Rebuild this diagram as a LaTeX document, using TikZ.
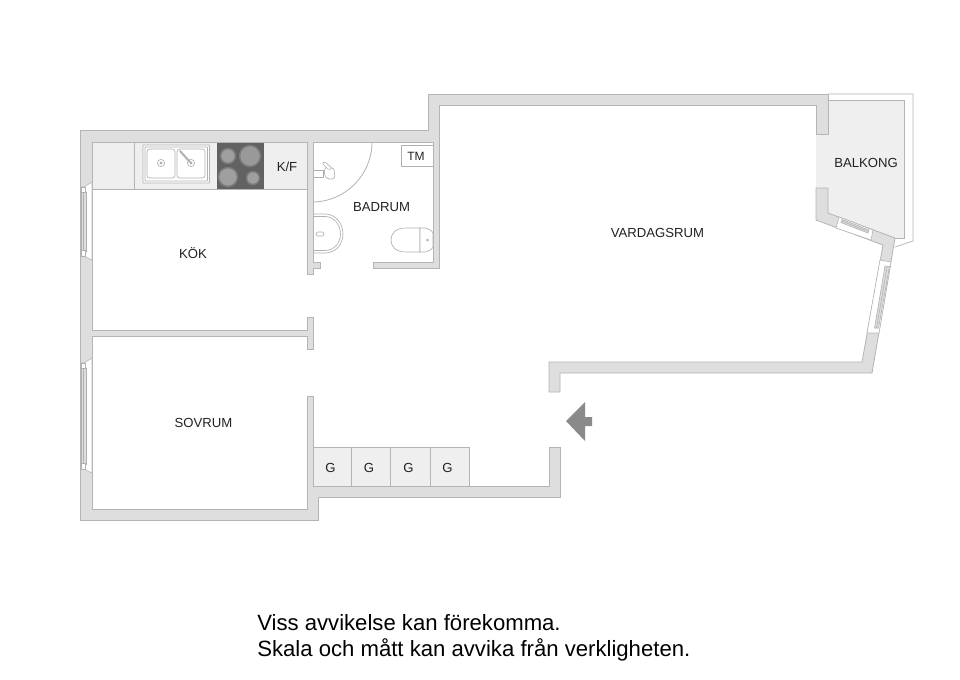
\documentclass[tikz,border=0pt]{standalone}
\usepackage{fontspec}
\setmainfont{Liberation Sans}
\definecolor{wallfill}{HTML}{DEDEDE}
\definecolor{wallline}{HTML}{B4B4B4}
\definecolor{floorgray}{HTML}{EFEFEF}
\definecolor{fixline}{HTML}{B0B0B0}
\definecolor{hob}{HTML}{626262}
\definecolor{burnerring}{HTML}{7A7A7A}
\definecolor{arrowgray}{HTML}{8A8A8A}
\definecolor{inktext}{HTML}{222222}
\tikzset{
  wall/.style={fill=wallfill,draw=wallline,line width=0.6pt,line join=miter},
  floorarea/.style={fill=floorgray,draw=wallline,line width=0.6pt},
  fixture/.style={draw=fixline,line width=0.5pt,fill=white},
  windowgap/.style={fill=white,draw=wallline,line width=0.45pt},
  glass/.style={draw=fixline,line width=0.45pt},
  burner/.style={fill=#1,draw=burnerring,line width=1.1pt},
  roomlabel/.style={font=\fontsize{9.85pt}{11pt}\selectfont,text=inktext,inner sep=0pt},
  note/.style={font=\fontsize{16.6pt}{20pt}\selectfont,text=black,inner sep=0pt,anchor=base west}
}
\begin{document}
\begin{tikzpicture}[x=0.75pt,y=-0.75pt]
\useasboundingbox[fill=white] (0,0) rectangle (960,679);
% balcony
\draw[draw=wallline,line width=0.5pt] (828,94) -- (913,94) -- (913,241) -- (895,247);
\fill[floorgray] (816,134) -- (828,134) -- (828,100) -- (904,100) -- (904,238) -- (895,238) -- (828,213) -- (828,188) -- (816,188) -- cycle;
\draw[wallline,line width=0.6pt] (828,100) -- (904,100) -- (904,238) -- (895,238);
% counter
\draw[floorarea] (92,142) rectangle (307,189);
\draw[wallline,line width=0.6pt] (134.5,142) -- (134.5,189);
\fill[hob] (217,142) rectangle (264,189);
\foreach \cx/\cy/\r/\c in {228/156/7.5/gray!75,250/156/10.5/gray!80,228/177/9.5/gray!75,253/178/6.5/gray!75}
  \draw[burner=\c] (\cx,\cy) circle (\r);
% sink
\draw[fixture,rounded corners=0.5pt] (143,145) rectangle (209.5,183);
\draw[fixture,rounded corners=0.5pt] (145,147) rectangle (207.5,181);
\draw[fixture,rounded corners=2pt] (147,149) rectangle (175,178);
\draw[fixture,rounded corners=2pt] (177,149) rectangle (205,178);
\foreach \cx in {161,191} {
  \draw[fixture] (\cx,163) circle (3.6);
  \draw[fixture,fill=fixline] (\cx,163) circle (1.2);
}
\draw[fixline,line width=1.5pt,line cap=round] (180,151) -- (190,162);
% G boxes
\foreach \xa/\xb in {313/351,351/390,390/430,430/469}
  \draw[floorarea] (\xa,447) rectangle (\xb,486);
% TM box
\draw[fixture] (401,145) rectangle (433,166);
% door swing
\draw[wallline,line width=0.6pt] (372,142) arc[start angle=0,end angle=90,radius=60];
% bidet / shower fitting
\draw[fixture] (313,170) rectangle (323,177);
\draw[fixture,rounded corners=2pt] (325,167) -- (334,168) -- (335,179) -- (327,179) -- (324,174) -- cycle;
\draw[fixture,rounded corners=1pt] (322,163) -- (325,162) -- (332,168) -- (329,170) -- cycle;
% wash basin
\draw[fixture] (313,214) -- (325,214) .. controls (336,214) and (343,224) .. (343,234) .. controls (343,244) and (336,253) .. (325,253) -- (313,253);
\draw[fixture] (313,216.5) -- (325,216.5) .. controls (334,216.5) and (340.5,225) .. (340.5,234) .. controls (340.5,243) and (334,250.5) .. (325,250.5) -- (313,250.5);
\draw[fixture,rounded corners=1.5pt] (316,232) rectangle (324,236);
% toilet
\draw[fixture] (420,228) -- (406,228) .. controls (396,228) and (391,233) .. (391,240) .. controls (391,247) and (396,252) .. (406,252) -- (420,252) -- cycle;
\draw[fixture] (420,228) -- (425,228) .. controls (430,229) and (433,232) .. (433,233) -- (433,247) .. controls (433,248) and (430,251) .. (425,252) -- (420,252) -- cycle;
\draw[fixture,fill=fixline] (427.5,240) circle (1);
% walls
\draw[wall] (80,130) -- (428,130) -- (428,94) -- (828,94) -- (828,134) -- (816,134) -- (816,105) -- (439,105) -- (439,268) -- (373,268) -- (373,262) -- (433,262) -- (433,142) -- (313,142) -- (313,262) -- (320,262) -- (320,268) -- (313,268) -- (313,274) -- (307,274) -- (307,142) -- (92,142) -- (92,330) -- (307,330) -- (307,317) -- (313,317) -- (313,349) -- (307,349) -- (307,336) -- (92,336) -- (92,509) -- (307,509) -- (307,396) -- (313,396) -- (313,486) -- (549,486) -- (549,447) -- (560,447) -- (560,497) -- (318,497) -- (318,520) -- (80,520) -- cycle;
\draw[wall] (816,188) -- (828,188) -- (828,213) -- (895,238) -- (872,373) -- (560,373) -- (560,392) -- (549,392) -- (549,362) -- (862,362) -- (883,245) -- (816,220) -- cycle;
% left windows
\foreach \ya/\yb in {182/257,358/470} {
  \draw[windowgap] (80.5,\ya+5) -- (84,\ya+5) -- (92,\ya) -- (92,\yb+3) -- (84,\yb-1) -- (80.5,\yb-1) -- cycle;
  \draw[glass,fill=wallfill] (81.5,\ya+10) rectangle (86,\yb-6);
  \draw[glass] (83.7,\ya+10) -- (83.7,\yb-6);
  \draw[glass,fill=white] (81.5,\ya+5) rectangle (85.5,\ya+10);
  \draw[glass,fill=white] (81.5,\yb-7) rectangle (85.5,\yb-1);
}
% balcony door window
\draw[windowgap] (839,217) -- (873,230) -- (871,240) -- (836,228) -- cycle;
\draw[glass,fill=wallfill] (842,219.5) -- (869,230) -- (868,233) -- (841,222.5) -- cycle;
\draw[glass] (841.5,221) -- (868.5,231.5);
% right window
\draw[windowgap] (880,260) -- (891,262) -- (879,333) -- (867,333) -- cycle;
\draw[glass,fill=wallfill] (885,266) -- (889.5,266.5) -- (878.5,328) -- (874.5,328) -- cycle;
\draw[glass] (887.2,266.2) -- (876.5,328);
% entrance arrow
\fill[arrowgray] (566,421) -- (585,402) -- (585,417) -- (592,417) -- (592,426) -- (585,426) -- (585,441) -- cycle;
% labels
\node[roomlabel] (kf) at (287,167) {K/F};
\node[roomlabel] (tm) at (416,156.5) {\fontsize{9pt}{11pt}\selectfont TM};
\node[roomlabel] (badrum) at (381.5,207) {BADRUM};
\node[roomlabel] (balkong) at (866,163) {BALKONG};
\node[roomlabel] (kok) at (193,253) {KÖK};
\node[roomlabel] (sovrum) at (203.5,423) {SOVRUM};
\node[roomlabel] (vardagsrum) at (657.5,233) {VARDAGSRUM};
\node[roomlabel] (g1) at (330.5,468) {G};
\node[roomlabel] (g2) at (369,468) {G};
\node[roomlabel] (g3) at (408.5,468) {G};
\node[roomlabel] (g4) at (447.5,468) {G};
\node[note] (note1) at (257,630.5) {Viss avvikelse kan förekomma.};
\node[note] (note2) at (257,656.5) {Skala och mått kan avvika från verkligheten.};
\end{tikzpicture}
\end{document}
